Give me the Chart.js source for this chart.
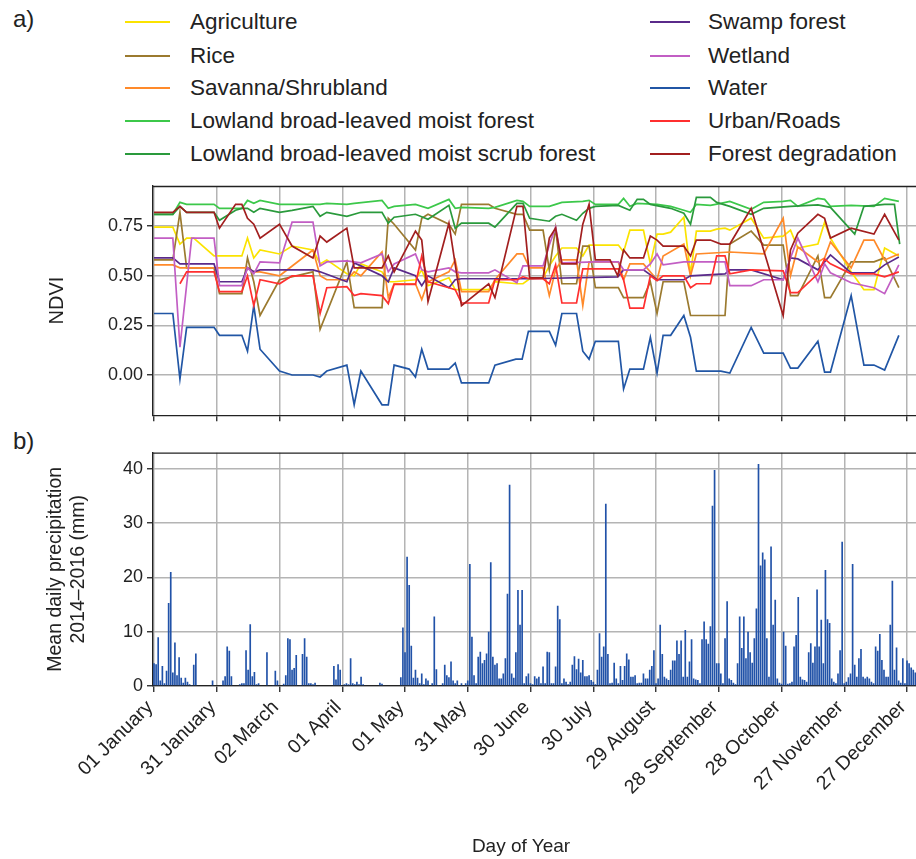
<!DOCTYPE html>
<html><head><meta charset="utf-8">
<script src="https://cdn.jsdelivr.net/npm/chart.js@4.4.1/dist/chart.umd.min.js"></script>
<style>
html,body{margin:0;padding:0;background:#fff;}
body{width:916px;height:859px;position:relative;overflow:hidden;font-family:"Liberation Sans",Arial,sans-serif;color:#222;}
.abs{position:absolute;}
.lg{position:absolute;font-size:22.5px;line-height:26px;white-space:nowrap;color:#222;}
.sw{position:absolute;height:2px;}
</style></head><body>
<div class="abs" style="left:13px;top:5px;font-size:24px">a)</div>
<div class="abs" style="left:13px;top:427px;font-size:24px">b)</div>
<div id="legend"></div>
<canvas id="c1" class="abs" style="left:0;top:170px" width="916" height="260"></canvas>
<canvas id="c2" class="abs" style="left:0;top:430px" width="916" height="429"></canvas>
<div class="abs" style="left:421px;width:200px;text-align:center;top:835px;font-size:19px">Day of Year</div>
<script>
// ---------- DATA ----------
const tickDays = [1,31,61,91,121,151,181,211,241,271,301,331,361];
const tickLabels = ['01 January','31 January','02 March','01 April','01 May','31 May','30 June','30 July','29 August','28 September','28 October','27 November','27 December'];
const ndviTicks = [0, 0.25, 0.5, 0.75];
const precipTicks = [0, 10, 20, 30, 40];

const seriesNames = ['Agriculture','Rice','Savanna/Shrubland','Lowland broad-leaved moist forest','Lowland broad-leaved moist scrub forest','Swamp forest','Wetland','Water','Urban/Roads','Forest degradation'];
const seriesColors = ['#fbe300','#9b7a2f','#ff8a2a','#3cc84a','#2a9a3c','#5a2a8a','#c25ec4','#2156a5','#ff2f2f','#a21f1f'];

// [day of year, NDVI]
const agriculture = [[1,0.745],[10,0.745],[13.4,0.66],[16.6,0.69],[20,0.69],[29.7,0.60],[43,0.60],[45.7,0.69],[48.7,0.59],[51.7,0.63],[61,0.61],[67,0.65],[77,0.63],[80.4,0.56],[83.6,0.58],[93.2,0.51],[96.7,0.50],[99.9,0.56],[110,0.52],[113,0.47],[115.8,0.47],[126,0.48],[129,0.53],[132,0.45],[142,0.49],[145,0.43],[148,0.43],[161,0.43],[164,0.47],[174.5,0.46],[177.4,0.46],[180.6,0.485],[187,0.49],[190,0.55],[193,0.60],[196,0.64],[203,0.64],[206,0.60],[209,0.655],[212,0.655],[223,0.655],[225.5,0.62],[228.5,0.73],[235,0.73],[238.3,0.56],[241.5,0.71],[244.4,0.71],[248,0.72],[254.3,0.795],[257.5,0.51],[260.3,0.725],[267,0.725],[270,0.735],[274,0.74],[276.3,0.73],[286.5,0.79],[292.5,0.69],[301.8,0.70],[305.3,0.73],[308.8,0.64],[318.4,0.66],[321.6,0.77],[324.4,0.69],[334.3,0.52],[340.4,0.43],[345.2,0.43],[350.3,0.64],[357.1,0.60]];
const rice = [[1,0.58],[10,0.58],[13.4,0.82],[16.6,0.54],[29.7,0.54],[32.3,0.41],[43,0.41],[45.7,0.59],[48.7,0.47],[51.7,0.30],[61,0.48],[77,0.52],[80.4,0.23],[93.2,0.57],[96.7,0.34],[110,0.34],[113,0.79],[115.8,0.76],[126,0.63],[129,0.79],[132,0.81],[142,0.76],[145,0.71],[148,0.86],[161,0.86],[164,0.84],[174.5,0.81],[177.4,0.81],[180.6,0.73],[187,0.73],[190,0.53],[193,0.74],[196,0.46],[203,0.46],[206,0.65],[209,0.65],[212,0.44],[223,0.44],[225.5,0.39],[235,0.39],[238.3,0.47],[241.5,0.31],[244.4,0.47],[254.3,0.47],[257.5,0.30],[274,0.30],[276.3,0.66],[286.5,0.725],[292.5,0.655],[301.8,0.655],[305.3,0.40],[308.8,0.40],[318.4,0.60],[321.6,0.39],[324.4,0.39],[334.3,0.57],[345.2,0.57],[350.3,0.59],[357.1,0.44]];
const savanna = [[1,0.555],[10,0.555],[13.4,0.54],[16.6,0.54],[45.7,0.54],[48.7,0.52],[51.7,0.52],[61,0.50],[77,0.63],[80.4,0.50],[83.6,0.48],[93.2,0.48],[96.7,0.52],[99.9,0.50],[110,0.62],[113,0.39],[115.8,0.46],[126,0.46],[129,0.38],[132,0.47],[142,0.52],[145,0.58],[148,0.42],[161,0.42],[164,0.48],[174.5,0.61],[177.4,0.61],[180.6,0.54],[187,0.54],[190,0.40],[193,0.53],[196,0.58],[203,0.58],[206,0.35],[209,0.57],[223,0.57],[225.5,0.48],[228.5,0.56],[235,0.56],[241.5,0.48],[244.4,0.60],[254.3,0.66],[257.5,0.50],[260.3,0.61],[276.3,0.62],[292.5,0.61],[301.8,0.79],[305.3,0.50],[308.8,0.645],[318.4,0.57],[321.6,0.59],[324.4,0.67],[334.3,0.54],[340.4,0.68],[345.2,0.68],[350.3,0.58],[357.1,0.61]];
const moistForest = [[1,0.81],[10,0.81],[13.4,0.87],[16.6,0.86],[29.7,0.86],[32.3,0.84],[43,0.84],[45.7,0.88],[48.7,0.865],[51.7,0.88],[61,0.86],[80.4,0.86],[83.6,0.865],[93.2,0.86],[96.7,0.865],[110,0.88],[113,0.84],[115.8,0.85],[126,0.86],[132,0.84],[142,0.885],[145,0.84],[148,0.845],[161,0.84],[164,0.845],[174.5,0.88],[177.4,0.875],[180.6,0.85],[190,0.85],[193,0.86],[196,0.87],[206,0.875],[209,0.88],[212,0.86],[223,0.86],[225.5,0.89],[228.5,0.85],[232,0.865],[241.5,0.86],[248,0.85],[254.3,0.83],[257.5,0.82],[260.3,0.86],[267,0.855],[272,0.865],[276.3,0.875],[286.5,0.835],[292.5,0.87],[301.8,0.875],[305.3,0.88],[308.8,0.85],[318.4,0.89],[321.6,0.885],[324.4,0.85],[334.3,0.855],[345.2,0.85],[350.3,0.89],[357.1,0.875]];
const scrubForest = [[1,0.81],[10,0.81],[13.4,0.85],[16.6,0.82],[29.7,0.82],[32.3,0.78],[40,0.83],[43,0.84],[45.7,0.84],[48.7,0.82],[51.7,0.84],[61,0.82],[67,0.83],[77,0.85],[80.4,0.80],[83.6,0.82],[93.2,0.80],[99.9,0.82],[110,0.82],[113,0.765],[115.8,0.795],[126,0.81],[132,0.785],[142,0.855],[145,0.74],[148,0.765],[161,0.765],[164,0.745],[174.5,0.865],[177.4,0.865],[180.6,0.79],[190,0.775],[193,0.80],[196,0.81],[203,0.78],[206,0.815],[209,0.84],[212,0.85],[223,0.855],[228.5,0.83],[232,0.885],[235,0.885],[238.3,0.86],[248,0.84],[254.3,0.815],[257.5,0.76],[260.3,0.895],[267,0.895],[270,0.87],[276.3,0.85],[286.5,0.81],[292.5,0.84],[305.3,0.85],[318.4,0.857],[324.4,0.845],[336,0.71],[340.4,0.85],[350.3,0.86],[355,0.86],[357.5,0.66]];
const swampForest = [[1,0.59],[10,0.59],[13.4,0.56],[29.7,0.56],[32.3,0.47],[43,0.47],[45.7,0.54],[48.7,0.52],[51.7,0.53],[77,0.53],[80.4,0.52],[93.2,0.47],[96.7,0.565],[99.9,0.55],[110,0.50],[113,0.47],[115.8,0.54],[126,0.50],[129,0.45],[132,0.50],[142,0.44],[145,0.48],[148,0.485],[174.5,0.485],[180.6,0.485],[222.7,0.495],[225.5,0.53],[235,0.53],[241.5,0.48],[254.3,0.48],[257.5,0.50],[274,0.51],[276.3,0.53],[286.5,0.53],[301.8,0.48],[305.3,0.59],[308.8,0.585],[318.4,0.53],[324.4,0.605],[334.3,0.515],[345.2,0.515],[350.3,0.555],[357.1,0.595]];
const wetland = [[1,0.69],[10,0.69],[13.4,0.14],[19,0.69],[29.7,0.69],[32.3,0.45],[43,0.45],[45.7,0.54],[48.7,0.51],[51.7,0.57],[61,0.565],[67,0.77],[77,0.77],[80.4,0.55],[83.6,0.57],[93.2,0.575],[99.9,0.565],[110,0.61],[113,0.52],[115.8,0.56],[126,0.61],[129,0.53],[132,0.52],[142,0.54],[145,0.52],[148,0.515],[161,0.515],[164,0.53],[174.5,0.465],[177.4,0.55],[187,0.55],[190,0.655],[193,0.745],[196,0.565],[212,0.57],[223,0.57],[225.5,0.53],[235,0.53],[238.3,0.56],[241.5,0.61],[244.4,0.555],[254.3,0.57],[274,0.57],[276.3,0.45],[286.5,0.45],[292.5,0.48],[301.8,0.48],[305.3,0.59],[308.8,0.69],[318.4,0.47],[321.6,0.56],[324.4,0.515],[334.3,0.465],[345.2,0.44],[350.3,0.41],[357.1,0.555]];
const water = [[1,0.31],[10,0.31],[13.4,-0.02],[16.6,0.24],[29.7,0.24],[32.3,0.20],[43,0.20],[45.7,0.12],[48.7,0.35],[51.7,0.13],[61,0.02],[67,0.0],[77,0.0],[80.4,-0.01],[83.6,0.02],[93.2,0.05],[96.7,-0.15],[99.9,0.02],[110,-0.15],[113,-0.15],[115.8,0.05],[123,0.03],[126,-0.01],[129,0.13],[132,0.03],[142,0.03],[145,0.06],[148,-0.04],[161,-0.04],[164,0.05],[174,0.08],[177,0.08],[180,0.22],[190,0.22],[193,0.15],[196,0.31],[203,0.31],[206,0.12],[209,0.08],[212,0.17],[223,0.17],[225.5,-0.07],[228.5,0.03],[235,0.03],[238.3,0.19],[241.5,0.01],[244.4,0.20],[248,0.20],[254.3,0.30],[257.5,0.19],[260.3,0.02],[272,0.02],[276.3,0.01],[286.5,0.24],[292.5,0.11],[301.8,0.11],[305.3,0.035],[308.8,0.035],[318.4,0.17],[321.6,0.015],[324.4,0.015],[334.3,0.40],[340.4,0.05],[345.2,0.05],[350.3,0.025],[357.1,0.20]];
const urban = [[13.4,0.46],[16.6,0.52],[29.7,0.52],[32.3,0.42],[43,0.42],[45.7,0.50],[48.7,0.35],[51.7,0.48],[61,0.46],[67,0.50],[77,0.50],[80.4,0.31],[83.6,0.44],[93.2,0.445],[96.7,0.40],[99.9,0.41],[110,0.40],[113,0.36],[115.8,0.457],[126,0.457],[129,0.60],[132,0.47],[142,0.44],[145,0.43],[148,0.363],[161,0.363],[164,0.48],[174.5,0.48],[177.4,0.495],[180.6,0.485],[187,0.485],[190,0.46],[193,0.555],[196,0.363],[203,0.363],[206,0.535],[223,0.535],[225.5,0.48],[228.5,0.337],[235,0.337],[238.3,0.50],[241.5,0.475],[244.4,0.50],[254.3,0.50],[257.5,0.44],[260.3,0.46],[267,0.46],[270,0.60],[274,0.60],[276.3,0.51],[286.5,0.53],[301.8,0.525],[305.3,0.415],[308.8,0.415],[318.4,0.51],[321.6,0.585],[324.4,0.56],[334.3,0.51],[345.2,0.51],[350.3,0.495],[357.1,0.52]];
const degradation = [[1,0.82],[10,0.82],[13.4,0.85],[16.6,0.82],[29.7,0.82],[32.3,0.74],[40,0.86],[43,0.86],[45.7,0.79],[48.7,0.76],[51.7,0.69],[61,0.76],[67,0.65],[77,0.59],[80.4,0.70],[83.6,0.67],[93.2,0.74],[96.7,0.54],[110,0.54],[113,0.60],[115.8,0.52],[126,0.725],[129,0.68],[132,0.37],[142,0.765],[148,0.35],[161,0.46],[164,0.39],[174.5,0.85],[177.4,0.85],[180.6,0.49],[187,0.49],[190,0.69],[193,0.74],[196,0.56],[203,0.56],[206,0.76],[209,0.86],[212,0.58],[219,0.58],[222.7,0.50],[225.5,0.63],[228.5,0.59],[235,0.59],[238.3,0.70],[241.5,0.68],[244.4,0.65],[254.3,0.65],[257.5,0.60],[260.3,0.68],[267,0.68],[272,0.66],[276.3,0.66],[286.5,0.84],[301.8,0.30],[305.3,0.63],[308.8,0.715],[318.4,0.81],[321.6,0.79],[324.4,0.69],[334.3,0.74],[345.2,0.71],[350.3,0.81],[357.1,0.68]];
const seriesData = [agriculture, rice, savanna, moistForest, scrubForest, swampForest, wetland, water, urban, degradation];

// mean daily precipitation, days 1..366 (mm)
const precipitation = [
4.2,4.0,9.0,1.0,3.7,0.5,2.8,15.3,21.0,2.5, 8.0,2.0,5.3,1.5,0.6,1.5,0.8,0.3,0.2,3.9,
6.0,0,0,0,0,0,0,0,1.0,0, 0,0,0,1.0,1.8,7.3,6.5,1.8,0,0,
0,0.3,0.5,0.5,6.6,3.0,11.4,1.8,2.6,0.3, 0.5,0,0,0,6.2,0,0,0.2,2.8,1.0,
0,0,0.4,2.0,8.8,8.6,3.0,3.3,5.7,0, 0.2,5.9,8.8,5.4,0.5,0.5,0.3,0.6,0,0,
0,0,0,0,0,0,3.7,1.2,4.0,3.0, 0,0.3,0.5,0.3,5.1,0.5,0.3,0.8,0.3,1.7,
0.3,0,0,0,0,0,0,0,0.6,0.4, 0,0,0,0,0,0,0,0,1.6,10.8,
6.2,23.8,18.6,7.4,1.5,3.0,1.5,0.5,2.3,0.3, 1.4,1.0,0,0.5,12.8,3.1,0.2,0,0.5,3.9,
2.0,1.6,4.5,1.0,0.5,1.0,0.2,0.5,0,0.5, 1.0,22.5,9.1,2.0,0.5,5.4,6.3,4.2,4.8,6.0,
10.0,22.8,5.4,3.9,4.2,1.4,1.4,2.3,5.1,17.0, 37.1,2.3,1.5,6.2,17.7,11.3,17.7,0.5,1.8,2.3,
0.5,0.3,1.8,1.4,1.7,0.5,3.6,0.5,6.3,6.2, 0.5,0.5,3.6,14.8,12.3,0.5,1.4,0.8,0.3,0.8,
3.9,5.5,3.1,5.0,2.5,4.8,1.8,1.8,2.0,1.1, 0.8,0.3,3.0,9.7,5.4,7.3,33.6,5.9,0.5,0.6,
4.3,1.4,0.5,3.7,1.1,3.7,6.0,4.9,1.7,1.7, 2.0,0.5,0.6,0.6,2.3,1.4,1.4,3.0,3.7,6.6,
0.5,1.4,11.3,5.9,1.7,1.4,1.1,3.0,4.7,4.7, 8.4,5.9,8.4,1.7,10.3,1.7,4.5,8.6,1.4,1.2,
1.1,0.5,8.6,11.9,8.6,7.8,11.0,33.2,39.8,4.2, 4.2,2.3,0.5,8.8,15.6,1.4,1.1,0.6,0.3,4.2,
12.8,7.0,12.8,5.1,10.0,6.2,4.3,8.8,14.3,40.9, 22.2,24.6,23.3,8.8,1.7,25.7,11.3,15.9,1.4,0.6,
0.4,10.0,7.4,0.4,0.5,0.8,7.3,9.4,16.4,1.7, 1.2,1.1,0.8,6.2,7.9,4.3,7.3,17.8,7.3,12.2,
4.2,21.4,12.3,11.6,1.4,0.8,0.5,2.3,6.6,26.6, 0.5,0.8,1.6,2.3,22.5,3.9,1.7,5.1,6.8,1.7,
1.4,1.7,1.4,0.8,0.5,7.3,6.5,9.6,4.8,3.0, 1.7,1.7,11.3,19.4,3.0,7.1,1.0,0.6,5.1,0.5,
4.7,4.2,3.4,3.0,2.5,4.0
];

// ---------- LEGEND (HTML text) ----------
const lg = document.getElementById('legend');
const rowsY = [22, 56, 88, 121, 154];
seriesNames.forEach((n, i) => {
  const col = i < 5 ? 0 : 1, row = i % 5;
  const lx = col ? 650 : 125, lw = col ? 40 : 45, tx = col ? 708 : 190;
  const sw = document.createElement('div');
  sw.className = 'sw';
  sw.style.cssText = `left:${lx}px;top:${rowsY[row]-1}px;width:${lw}px;background:${seriesColors[i]}`;
  lg.appendChild(sw);
  const t = document.createElement('div');
  t.className = 'lg';
  t.style.left = tx + 'px';
  t.style.top = (rowsY[row] - 13) + 'px';
  t.textContent = n;
  lg.appendChild(t);
});

// ---------- CHARTS ----------
const FONT = "'Liberation Sans', Arial, sans-serif";
const GRID = '#b4b4b4';
const AX = '#222';
const frame = { id: 'frame', afterDatasetsDraw(c) {
  const a = c.chartArea, x = c.ctx;
  x.save(); x.strokeStyle = AX; x.lineWidth = 1.3;
  x.beginPath(); x.moveTo(a.left, a.top + 0.5); x.lineTo(a.right, a.top + 0.5); x.stroke();
  x.restore();
}};

function xScale(showLabels, h) {
  return {
    type: 'linear', min: 0.52, max: 365.3, offset: false,
    afterBuildTicks: s => { s.ticks = tickDays.map(v => ({ value: v })); },
    afterFit: s => { s.height = h; s.paddingLeft = 0; s.paddingRight = 0; },
    grid: { color: GRID, lineWidth: 1.5, tickLength: 6, tickColor: AX, tickWidth: 1.3, offset: false },
    border: { color: AX, width: 1.3 },
    ticks: {
      display: showLabels, autoSkip: false, minRotation: 45, maxRotation: 45,
      color: AX, padding: 4, labelOffset: -4, font: { family: FONT, size: 19.5 },
      callback: v => { const k = tickDays.indexOf(v); return k >= 0 ? tickLabels[k] : ''; }
    }
  };
}

Chart.defaults.font.family = FONT;

new Chart(document.getElementById('c1'), {
  type: 'line',
  data: {
    datasets: seriesData.map((d, i) => ({
      label: seriesNames[i],
      data: d.map(p => ({ x: p[0], y: p[1] })),
      borderColor: seriesColors[i], borderWidth: 1.7, pointRadius: 0,
      tension: 0, fill: false, order: 10 - i
    }))
  },
  options: {
    responsive: false, devicePixelRatio: 1, animation: false,
    layout: { padding: { top: 16, right: 0, bottom: 0, left: 0 } },
    plugins: { legend: { display: false }, tooltip: { enabled: false } },
    scales: {
      x: xScale(false, 10.7),
      y: {
        min: -0.2025, max: 0.9525,
        afterBuildTicks: s => { s.ticks = ndviTicks.map(v => ({ value: v })); },
        afterFit: s => { s.width = 153; },
        grid: { color: GRID, lineWidth: 1.5, tickLength: 6, tickColor: AX, tickWidth: 1.3 },
        border: { color: AX, width: 1.3 },
        ticks: { color: AX, padding: 4, font: { family: FONT, size: 18 }, callback: v => v.toFixed(2) },
        title: { display: true, text: 'NDVI', color: AX, font: { family: FONT, size: 20 }, padding: { top: 45, bottom: 0 } }
      }
    }
  },
  plugins: [frame]
});

new Chart(document.getElementById('c2'), {
  type: 'bar',
  data: {
    datasets: [{
      data: precipitation.map((v, i) => ({ x: i + 1, y: v })),
      backgroundColor: '#2152a8', borderWidth: 0,
      barPercentage: 0.8, categoryPercentage: 1.0
    }]
  },
  options: {
    responsive: false, devicePixelRatio: 1, animation: false,
    layout: { padding: { top: 22.7, right: 0, bottom: 0, left: 0 } },
    plugins: { legend: { display: false }, tooltip: { enabled: false } },
    scales: {
      x: xScale(true, 173),
      y: {
        min: 0, max: 43,
        afterBuildTicks: s => { s.ticks = precipTicks.map(v => ({ value: v })); },
        afterFit: s => { s.width = 153; },
        grid: { color: GRID, lineWidth: 1.5, tickLength: 6, tickColor: AX, tickWidth: 1.3 },
        border: { color: AX, width: 1.3 },
        ticks: { color: AX, padding: 4, font: { family: FONT, size: 18 } },
        title: { display: true, text: ['Mean daily precipitation', '2014\u20132016 (mm)'], color: AX, font: { family: FONT, size: 19.5 }, padding: { top: 44, bottom: 0 } }
      }
    }
  },
  plugins: [frame]
});
</script>
</body></html>
